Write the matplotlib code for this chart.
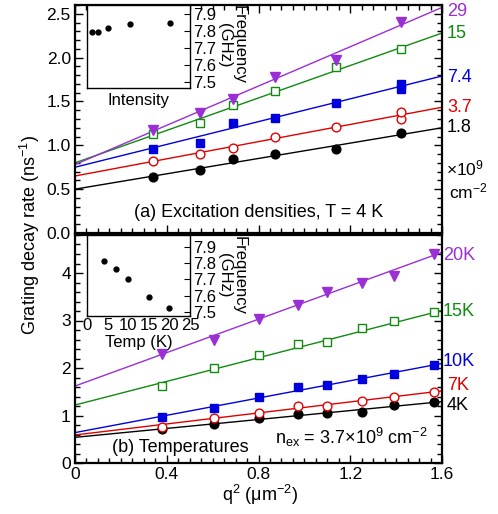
import numpy as np
import matplotlib
matplotlib.use('Agg')
from matplotlib import pyplot as plt
from matplotlib.ticker import MultipleLocator

plt.rcParams['font.family'] = ['Liberation Sans', 'DejaVu Sans']
plt.rcParams['mathtext.fontset'] = 'custom'
plt.rcParams['mathtext.rm'] = 'Liberation Sans'
plt.rcParams['mathtext.it'] = 'Liberation Sans'

# (a) excitation densities, T = 4 K
dens_labels = ['1.8', '3.7', '7.4', '15', '29']
q2_a = [0.34, 0.545, 0.69, 0.87, 1.14, 1.42]
rate_a = [
    [0.64, 0.72, 0.84, 0.90, 0.96, 1.14],
    [0.82, 0.90, 0.97, 1.10, 1.21, 1.30],
    [0.96, 1.03, 1.25, 1.31, 1.48, 1.64],
    [1.13, 1.25, 1.46, 1.62, 1.89, 2.10],
    [1.17, 1.37, 1.53, 1.78, 1.97, 2.41],
]
extra_a = {1: 1.38, 2: 1.70}  # second point at last q2
fit_a0 = [0.50, 0.65, 0.75, 0.80, 0.78]
fit_a1 = [0.4375, 0.49, 0.65, 0.925, 1.12]

# (b) temperatures
temp_labels = ['4K', '7K', '10K', '15K', '20K']
q2_b = [0.38, 0.606, 0.80, 0.973, 1.10, 1.25, 1.39, 1.565]
rate_b = [
    [0.71, 0.83, 0.94, 1.03, 1.05, 1.08, 1.23, 1.28],
    [0.76, 0.94, 1.06, 1.20, 1.21, 1.31, 1.39, 1.50],
    [0.97, 1.16, 1.39, 1.60, 1.64, 1.76, 1.88, 2.07],
    [1.62, 1.99, 2.28, 2.51, 2.54, 2.85, 2.98, 3.17],
    [2.29, 2.60, 3.03, 3.32, 3.59, 3.80, 3.94, 4.39],
]
fit_b0 = [0.54, 0.59, 0.64, 1.22, 1.62]
fit_b1 = [0.47, 0.58, 0.91, 1.245, 1.76]

# insets
ins_dens = [1.8, 3.7, 7.4, 15, 29]
ins_freq_a = [7.793, 7.793, 7.817, 7.842, 7.850]
ins_temp = [4, 7, 10, 15, 20]
ins_freq_b = [7.815, 7.764, 7.701, 7.595, 7.524]

colors = ['black', '#e00000', '#0000dd', '#108a10', '#9a2fd6']
markers = ['o', 'o', 's', 's', 'v']
filled = [True, False, True, False, True]
msize = [6.3, 6.3, 6.3, 6.3, 7]

W, H = 498, 514
fig = plt.figure(figsize=(W / 100, H / 100), dpi=100)
ax1 = fig.add_axes([75 / W, 1 - 233 / H, 367 / W, 228 / H])
ax2 = fig.add_axes([75 / W, 1 - 463 / H, 367 / W, 228 / H])

xx = np.array([0, 1.6])


def draw_series(ax, x, ys, a0, a1):
    for i, y in enumerate(ys):
        c = colors[i]
        ax.plot(xx, a0[i] + a1[i] * xx, color=c, lw=1.0, zorder=2)
        fc = c if filled[i] else 'white'
        ax.plot(x, y, linestyle='none', marker=markers[i], ms=msize[i],
                mfc=fc, mec=c, mew=1.0, zorder=3)


draw_series(ax1, q2_a, rate_a, fit_a0, fit_a1)
for i, v in extra_a.items():
    fc = colors[i] if filled[i] else 'white'
    ax1.plot([q2_a[-1]], [v], linestyle='none', marker=markers[i], ms=msize[i],
             mfc=fc, mec=colors[i], mew=1.0, zorder=3)
draw_series(ax2, q2_b, rate_b, fit_b0, fit_b1)

for ax in (ax1, ax2):
    ax.set_xlim(0, 1.6)
    ax.xaxis.set_major_locator(MultipleLocator(0.4))
    ax.xaxis.set_minor_locator(MultipleLocator(0.05))
    ax.tick_params(which='both', direction='in', top=True, right=True, width=1.0)
    ax.tick_params(which='major', length=6, labelsize=12.5, pad=3)
    ax.tick_params(which='minor', length=3.5)
    for s in ax.spines.values():
        s.set_linewidth(1.6)

ax1.set_ylim(0, 2.6)
ax1.yaxis.set_major_locator(MultipleLocator(0.5))
ax1.yaxis.set_minor_locator(MultipleLocator(0.1))
ax1.set_yticks([0, 0.5, 1.0, 1.5, 2.0, 2.5])
ax1.set_yticklabels(['0.0', '0.5', '1.0', '1.5', '2.0', '2.5'])
ax1.tick_params(labelbottom=False)

ax2.set_ylim(0, 4.8)
ax2.yaxis.set_major_locator(MultipleLocator(1))
ax2.yaxis.set_minor_locator(MultipleLocator(0.2))
ax2.set_xticks([0, 0.4, 0.8, 1.2, 1.6])
ax2.set_xticklabels(['0', '0.4', '0.8', '1.2', '1.6'])
ax2.tick_params(top=False, which='both')

# right side labels
lab_y_a = [127, 108, 77, 33, 12]
for i, t in enumerate(dens_labels):
    fig.text(447 / W, 1 - lab_y_a[i] / H, t, color=colors[i], fontsize=13,
             ha='left', va='center')
fig.text(446 / W, 1 - 168 / H, r'$\times$10$^9$', fontsize=12.5, ha='left', va='center')
fig.text(449 / W, 1 - 191 / H, r'cm$^{-2}$', fontsize=12.5, ha='left', va='center')

lab_y_b = [405, 386, 362, 311, 255]
lab_x_b = [447, 447, 443, 443, 443]
for i, t in enumerate(temp_labels):
    fig.text(lab_x_b[i] / W, 1 - lab_y_b[i] / H, t, color=colors[i], fontsize=13,
             ha='left', va='center')

ax1.text(0.5, 0.09, '(a) Excitation densities, T = 4 K', transform=ax1.transAxes,
         fontsize=13, ha='center', va='center')
fig.text(112 / W, 1 - 447 / H, '(b) Temperatures', fontsize=13, ha='left', va='center')
fig.text(275 / W, 1 - 437 / H, r'n$_{\rm ex}$ = 3.7$\times$10$^9$ cm$^{-2}$',
         fontsize=13, ha='left', va='center')

fig.text(30 / W, 1 - 235 / H, r'Grating decay rate (ns$^{-1}$)', rotation=90,
         fontsize=13, ha='center', va='center')
fig.text(260 / W, 1 - 495 / H, r'q$^2$ ($\mu$m$^{-2}$)', fontsize=13,
         ha='center', va='center')

# insets
in1 = fig.add_axes([87.3 / W, 1 - 87.7 / H, 102.7 / W, 82.7 / H])
in1.plot(ins_dens, ins_freq_a, 'o', color='black', ms=3.5)
in1.set_xlim(0, 36)
in1.set_ylim(7.465, 7.955)
in1.set_xticks([])
in1.set_xlabel('Intensity', fontsize=12, labelpad=4)

in2 = fig.add_axes([87.3 / W, 1 - 315.7 / H, 102.7 / W, 80.7 / H])
in2.plot(ins_temp, ins_freq_b, 'o', color='black', ms=3.5)
in2.set_xlim(0, 25)
in2.set_ylim(7.479, 7.971)
in2.set_xticks([0, 5, 10, 15, 20, 25])
in2.set_xlabel('Temp (K)', fontsize=12, labelpad=1)

for ins in (in1, in2):
    ins.set_yticks([7.5, 7.6, 7.7, 7.8, 7.9])
    ins.yaxis.tick_right()
    ins.tick_params(axis='y', direction='in', length=4, labelsize=12, pad=2)
    ins.tick_params(axis='x', direction='in', length=0, labelsize=12, pad=2)
    for s in ins.spines.values():
        s.set_linewidth(1.0)
    ins.set_facecolor('white')

for yc in (45, 275):
    fig.text(232 / W, 1 - yc / H, 'Frequency\n(GHz)', rotation=270, fontsize=12,
             ha='center', va='center', multialignment='center', linespacing=1.0)

fig.savefig('out.png', dpi=100)
